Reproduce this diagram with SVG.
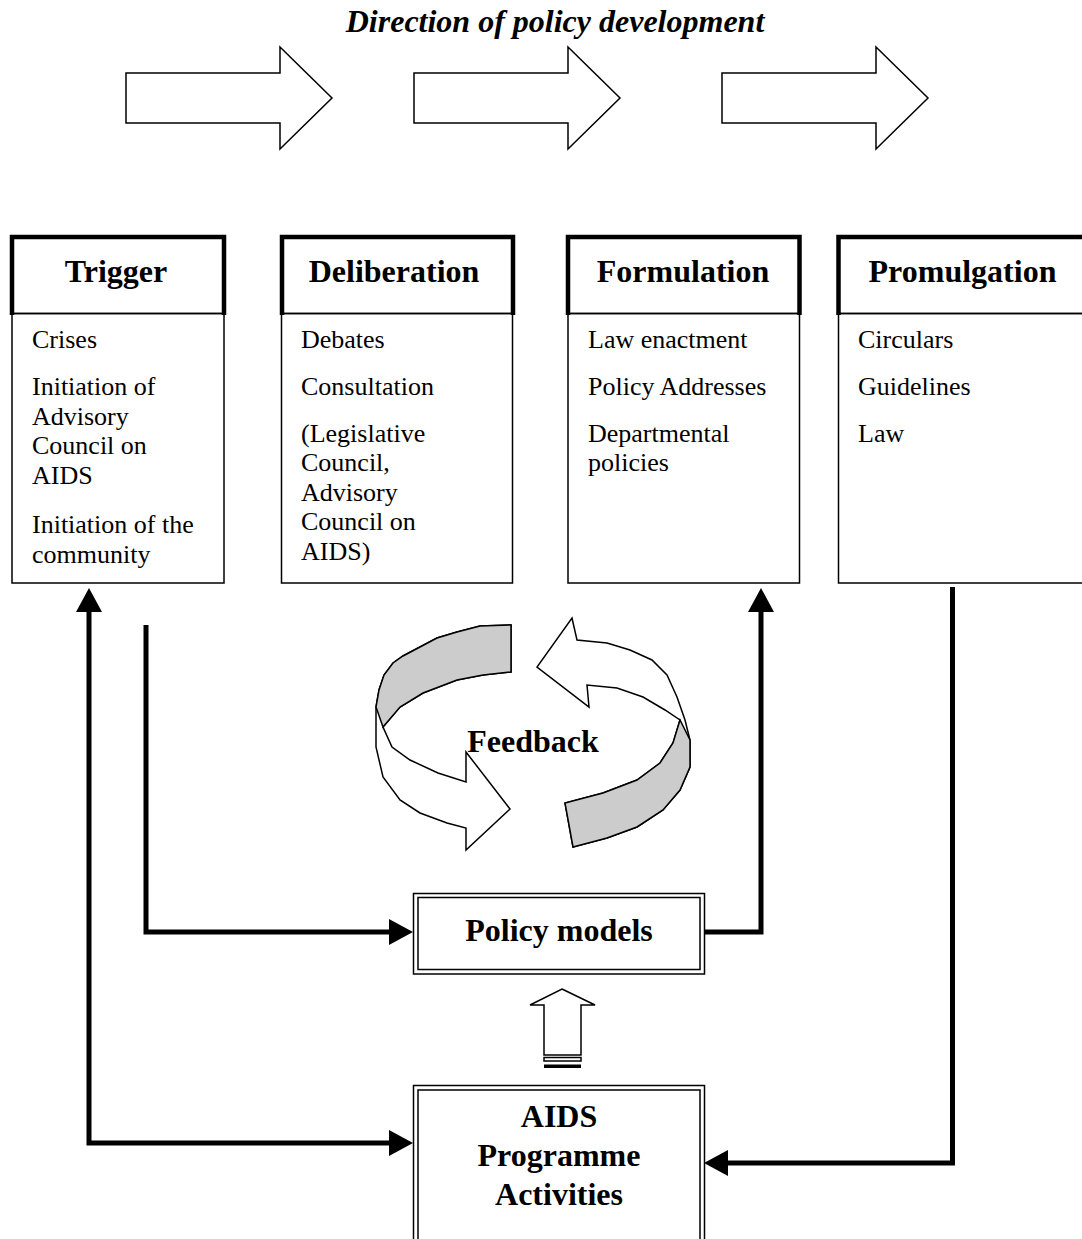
<svg xmlns="http://www.w3.org/2000/svg" width="1082" height="1239" viewBox="0 0 1082 1239">
<style>
.hdr{fill:none;stroke:#000;stroke-width:4.5;stroke-linejoin:miter}
.box{fill:#fff;stroke:#000;stroke-width:1.5}
.thin{fill:none;stroke:#000;stroke-width:1.5}
.h{font-family:"Liberation Serif","Times New Roman",serif;font-weight:bold;font-size:32px;text-anchor:middle;fill:#000}
.b{font-family:"Liberation Serif","Times New Roman",serif;font-size:26px;fill:#000}
.shape{fill:#fff;stroke:#000;stroke-width:1.5;stroke-linejoin:miter}
.grey{fill:#cccccc;stroke:#000;stroke-width:1.5;stroke-linejoin:miter}
.conn{fill:none;stroke:#000;stroke-width:5;stroke-linejoin:miter}
</style>
<defs>
<marker id="ah" markerUnits="userSpaceOnUse" markerWidth="24" markerHeight="26" viewBox="0 0 24 26" refX="0" refY="13" orient="auto-start-reverse">
<path d="M0,0 L24,13 L0,26 Z" fill="#000"/>
</marker>
</defs>
<rect width="1082" height="1239" fill="#fff"/>

<g id="title">
<text x="555" y="32" font-family="Liberation Serif, Times New Roman, serif" font-weight="bold" font-style="italic" font-size="32" text-anchor="middle">Direction of policy development</text>
</g>

<g id="direction-arrows">
<path class="shape" d="M126,73 H280 V47 L332,98 L280,149 V123 H126 Z"/>
<path class="shape" d="M126,73 H280 V47 L332,98 L280,149 V123 H126 Z" transform="translate(288,0)"/>
<path class="shape" d="M126,73 H280 V47 L332,98 L280,149 V123 H126 Z" transform="translate(596,0)"/>
</g>

<g id="trigger">
<rect class="box" x="12" y="313.5" width="212" height="269.5"/>
<path class="hdr" d="M12,315 V237 H224 V315"/>
<line class="thin" x1="12" y1="313.5" x2="224" y2="313.5"/>
<text class="h" x="116" y="282">Trigger</text>
<text class="b" x="32" y="348">Crises</text>
<text class="b" x="32" y="395">Initiation of</text>
<text class="b" x="32" y="424.5">Advisory</text>
<text class="b" x="32" y="454">Council on</text>
<text class="b" x="32" y="483.5">AIDS</text>
<text class="b" x="32" y="533">Initiation of the</text>
<text class="b" x="32" y="562.5">community</text>
</g>

<g id="deliberation">
<rect class="box" x="281.5" y="313.5" width="231" height="269.5"/>
<path class="hdr" d="M282,315 V237 H513 V315"/>
<line class="thin" x1="282" y1="313.5" x2="513" y2="313.5"/>
<text class="h" x="394" y="282">Deliberation</text>
<text class="b" x="301" y="348">Debates</text>
<text class="b" x="301" y="395">Consultation</text>
<text class="b" x="301" y="441.5">(Legislative</text>
<text class="b" x="301" y="471">Council,</text>
<text class="b" x="301" y="500.5">Advisory</text>
<text class="b" x="301" y="530">Council on</text>
<text class="b" x="301" y="559.5">AIDS)</text>
</g>

<g id="formulation">
<rect class="box" x="568" y="313.5" width="231.5" height="269.5"/>
<path class="hdr" d="M568,315 V237 H799.5 V315"/>
<line class="thin" x1="568" y1="313.5" x2="799.5" y2="313.5"/>
<text class="h" x="683" y="282">Formulation</text>
<text class="b" x="588" y="348">Law enactment</text>
<text class="b" x="588" y="395">Policy Addresses</text>
<text class="b" x="588" y="441.5">Departmental</text>
<text class="b" x="588" y="471">policies</text>
</g>

<g id="promulgation">
<rect class="box" x="838.5" y="313.5" width="260" height="269.5"/>
<path class="hdr" d="M838.5,315 V237 H1090"/>
<line class="thin" x1="838.5" y1="313.5" x2="1090" y2="313.5"/>
<text class="h" x="962.5" y="282">Promulgation</text>
<text class="b" x="858" y="348">Circulars</text>
<text class="b" x="858" y="395">Guidelines</text>
<text class="b" x="858" y="441.5">Law</text>
</g>

<g id="feedback">
<path class="shape" d="M511,625 L480,626 L457,632 L437,638 L420,647 L403,656 L393,663 L384,675 L379,690 L376,707 L376,747 L383,777 L400,800 L420,813 L447,823 L466,828 L466,850 L510,809 L466,752 L466,782 L438,773 L410,760 L392,747 L383,727 L400,707 L423,693 L457,680 L483,675 L511,672 Z"/>
<path class="grey" d="M511,625 L480,626 L457,632 L437,638 L420,647 L403,656 L393,663 L384,675 L379,690 L376,707 L383,727 L400,707 L423,693 L457,680 L483,675 L511,672 Z"/>
<path class="shape" d="M573,847 L607,838 L637,827 L663,810 L680,790 L690,767 L690,740 L685,720 L677,697 L667,675 L652,660 L630,650 L607,643 L577,640 L572,618 L537,667 L589,707 L587,685 L617,688 L643,697 L665,710 L680,720 L673,743 L660,763 L637,780 L603,793 L565,803 Z"/>
<path class="grey" d="M573,847 L607,838 L637,827 L663,810 L680,790 L690,767 L690,740 L680,720 L673,743 L660,763 L637,780 L603,793 L565,803 Z"/>
<text class="h" x="533" y="752">Feedback</text>
</g>

<g id="policy-models">
<rect class="box" x="413.5" y="893.5" width="291" height="80.5"/>
<rect class="thin" x="418" y="897.5" width="282" height="72"/>
<text class="h" x="559" y="941">Policy models</text>
</g>

<g id="striped-arrow">
<path class="shape" d="M562,989 L595,1005 L581,1005 L581,1055 L544,1055 L544,1005 L530,1005 Z"/>
<rect class="thin" x="544" y="1057.5" width="37" height="3.5"/>
<rect x="544" y="1064.5" width="37" height="3.5" fill="#000"/>
</g>

<g id="aids-programme">
<rect class="box" x="413.5" y="1085.5" width="291" height="170"/>
<rect class="thin" x="418" y="1090" width="282" height="160"/>
<text class="h" x="559" y="1127">AIDS</text>
<text class="h" x="559" y="1166">Programme</text>
<text class="h" x="559" y="1205">Activities</text>
</g>

<g id="connectors">
<path class="conn" d="M389,1143 H89 V612" marker-start="url(#ah)" marker-end="url(#ah)"/>
<path class="conn" d="M146,625 V932 H389" marker-end="url(#ah)"/>
<path class="conn" d="M705,932 H761 V612" marker-end="url(#ah)"/>
<path class="conn" d="M952.5,587 V1163 H728" marker-end="url(#ah)"/>
</g>
</svg>
